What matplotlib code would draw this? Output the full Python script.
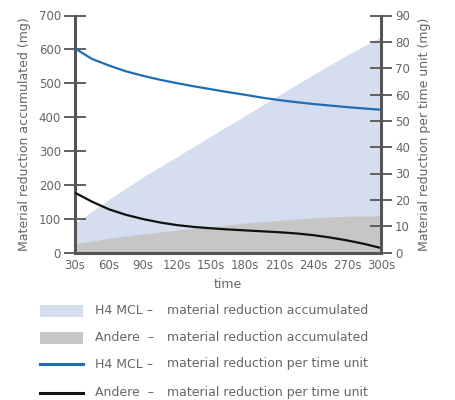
import matplotlib
matplotlib.use("Agg")
import matplotlib.pyplot as plt
from matplotlib.patches import Rectangle
from matplotlib.lines import Line2D

times = [30, 60, 90, 120, 150, 180, 210, 240, 270, 300]
tick_labels = ["30s", "60s", "90s", "120s", "150s", "180s", "210s", "240s", "270s", "300s"]
h4_accum = [86, 157, 223, 283, 344, 404, 465, 525, 583, 637]
andere_accum = [26, 42, 55, 66, 77, 87, 95, 103, 107, 108]

rate_times = [30, 45, 60, 75, 90, 105, 120, 135, 150, 165, 180, 195, 210, 225, 240, 255, 270, 285, 300]
h4_rate = [77.5, 73.5, 71.0, 68.8, 67.1, 65.6, 64.3, 63.1, 62.0, 60.9, 59.9, 58.8, 57.9, 57.1,
           56.4, 55.8, 55.2, 54.7, 54.2]
andere_rate = [22.7, 19.3, 16.4, 14.3, 12.7, 11.4, 10.4, 9.7, 9.2, 8.75, 8.4, 8.05, 7.7, 7.25,
               6.6, 5.7, 4.6, 3.3, 1.7]

legend_prefix = ["H4 MCL –", "Andere  –", "H4 MCL –", "Andere  –"]
legend_text = ["material reduction accumulated", "material reduction accumulated",
               "material reduction per time unit", "material reduction per time unit"]

c_blue_fill = "#d4deee"
c_gray_fill = "#c6c6c6"
c_blue = "#1f6db5"
c_black = "#111111"
c_axis = "#555555"
c_text = "#666666"

fig = plt.figure(figsize=(4.56, 4.0), dpi=100)
ax = fig.add_axes([75/456, 1-252.5/400, (381-75)/456, (252.5-15.5)/400])
ax2 = ax.twinx()

ax.fill_between(times, 0, h4_accum, color=c_blue_fill, linewidth=0, zorder=1)
ax.fill_between(times, 0, andere_accum, color=c_gray_fill, linewidth=0, zorder=2)
ax2.plot(rate_times, h4_rate, color=c_blue, lw=1.6, zorder=3, solid_capstyle="butt")
ax2.plot(rate_times, andere_rate, color=c_black, lw=1.6, zorder=3, solid_capstyle="butt")

ax.set_xlim(30, 300)
ax.set_ylim(0, 700)
ax2.set_ylim(0, 90)
ax.set_yticks(range(0, 701, 100))
ax2.set_yticks(range(0, 91, 10))
ax.set_xticks(times)
ax.set_xticklabels(tick_labels)

for a in (ax, ax2):
    for s in a.spines.values():
        s.set_visible(False)
ax.spines["left"].set_visible(True)
ax.spines["bottom"].set_visible(True)
ax2.spines["right"].set_visible(True)
for s in (ax.spines["left"], ax.spines["bottom"], ax2.spines["right"]):
    s.set_color(c_axis)
    s.set_linewidth(2.2)
    s.set_zorder(5)

ax.tick_params(axis="y", direction="inout", length=16, width=1.3, color=c_axis,
               labelcolor=c_text, labelsize=8.5, pad=2)
ax2.tick_params(axis="y", direction="inout", length=16, width=1.3, color=c_axis,
                labelcolor=c_text, labelsize=8.5, pad=2)
ax.tick_params(axis="x", length=0, labelcolor=c_text, labelsize=8.5, pad=5)

ax.set_xlabel("time", color=c_text, fontsize=9, labelpad=4)
ax.set_ylabel("Material reduction accumulated (mg)", color=c_text, fontsize=9, labelpad=6)
ax2.set_ylabel("Material reduction per time unit (mg)", color=c_text, fontsize=9, labelpad=6)

# legend drawn manually
rows_y = [311, 337.5, 364, 392.5]
for i, y in enumerate(rows_y):
    yf = 1 - y/400
    if i < 2:
        col = c_blue_fill if i == 0 else c_gray_fill
        fig.patches.append(Rectangle((40/456, 1-(y+6)/400), 43/456, 12/400,
                                     transform=fig.transFigure, color=col, lw=0))
    else:
        col = c_blue if i == 2 else c_black
        fig.lines.append(Line2D([40/456, 83/456], [yf, yf], transform=fig.transFigure,
                                color=col, lw=2.2))
    fig.text(95/456, yf, legend_prefix[i], color=c_text, fontsize=9, va="center", ha="left")
    fig.text(167/456, yf, legend_text[i], color=c_text, fontsize=9, va="center", ha="left")

fig.savefig("out.png", dpi=100)
